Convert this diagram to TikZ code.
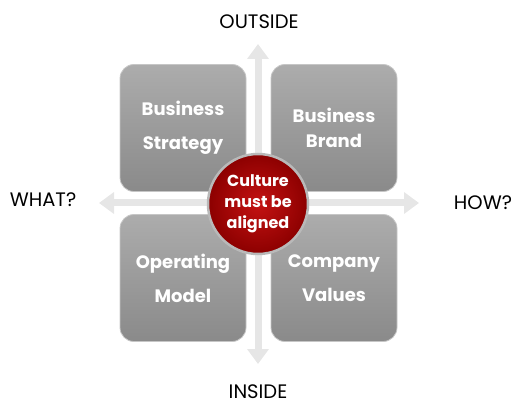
\documentclass[tikz,border=0pt]{standalone}
\usepackage{fontspec}
\setmainfont{Poppins}
\usepackage{tikz}
\usetikzlibrary{positioning}
\usetikzlibrary{arrows.meta}
\definecolor{boxtop}{RGB}{172,172,172}
\definecolor{boxbot}{RGB}{138,138,138}
\definecolor{arrowgray}{RGB}{230,230,230}
\definecolor{culturered}{RGB}{196,18,18}
\definecolor{culturedark}{RGB}{140,0,0}

\begin{document}
\begin{tikzpicture}[x=1pt, y=-1pt, align=center,
    quad/.style={rectangle, rounded corners=14pt, minimum width=126pt, minimum height=127pt,
        top color=boxtop, bottom color=boxbot, draw=gray!45, line width=0.8pt,
        text=white, font=\fontsize{18}{34}\selectfont\bfseries},
    axis/.style={draw=arrowgray, line width=7pt, {Triangle[width=21pt,length=15pt]}-{Triangle[width=21pt,length=15pt]}},
    axislabel/.style={font=\fontsize{19.5}{22}\selectfont}]
        \useasboundingbox (0,0) rectangle (521,419);
        % axes
        \coordinate (top) at (258,44);
        \coordinate (bottom) at (258,364);
        \coordinate (left) at (99,203);
        \coordinate (right) at (419,203);
        \draw[axis] (bottom) -- (top);
        \draw[axis] (left) -- (right);
        \node[axislabel] (outside) at (259,22) {OUTSIDE};
        \node[axislabel] (inside) at (258,392) {INSIDE};
        \node[axislabel] (what) at (43,200) {WHAT?};
        \node[axislabel] (how) at (483,203) {HOW?};
        % quadrants
        \node[quad] (strategy) at (183,128) {Business\\Strategy};
        \node[quad, font=\fontsize{18}{25}\selectfont\bfseries] (brand) at (334,128) {Business\\Brand};
        \node[quad] (model) at (183,278) {Operating\\Model};
        \node[quad] (values) at (334,278) {Company\\Values};
        % centre
        \node[circle, minimum size=100pt, inner color=culturered, outer color=culturedark,
            draw=gray!55, line width=2.5pt, text=white, font=\fontsize{16}{21}\selectfont\bfseries] (culture) at (258,204) {Culture\\must be\\aligned};
    \end{tikzpicture}
\end{document}
